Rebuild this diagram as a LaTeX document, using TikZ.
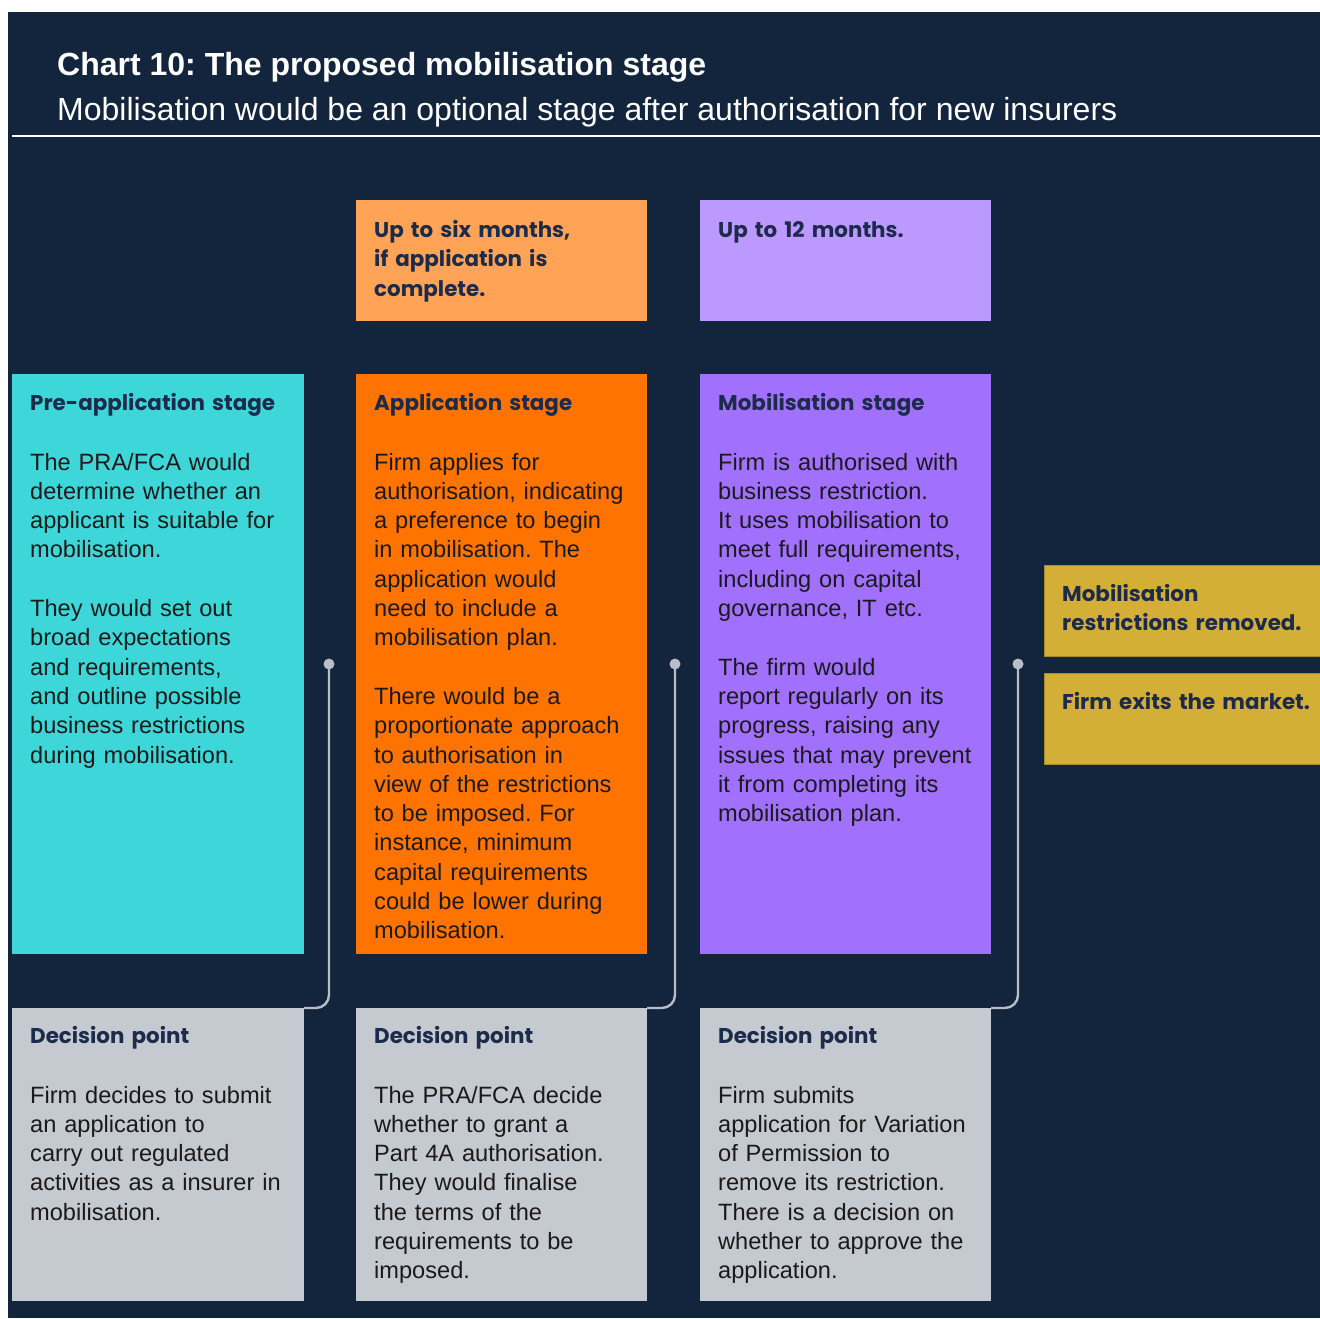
\documentclass[tikz,border=0pt]{standalone}
\usepackage{fontspec}
\setmainfont{Liberation Sans}
\newfontfamily\headfont{Poppins}
\frenchspacing
\definecolor{navy}{HTML}{13243D}
\definecolor{cyanbox}{HTML}{3DD7DA}
\definecolor{orangebox}{HTML}{FF7300}
\definecolor{lorangebox}{HTML}{FFA456}
\definecolor{purplebox}{HTML}{A171FE}
\definecolor{lpurplebox}{HTML}{BB99FF}
\definecolor{greybox}{HTML}{C5C9D0}
\definecolor{goldbox}{HTML}{D4AF37}
\definecolor{headtxt}{HTML}{1C2B4A}
\definecolor{bodytxt}{HTML}{1A1A1A}
\definecolor{conncol}{HTML}{B8BEC8}
\tikzset{
  panel/.style={inner sep=0pt, outer sep=0pt},
  headtext/.style={anchor=base west, inner sep=0pt, text=headtxt, font=\headfont\bfseries\fontsize{21.4}{29.5}\selectfont, text width=285pt, align=left},
  bodytext/.style={anchor=base west, inner sep=0pt, text=bodytxt, font=\fontsize{23.6}{29.3}\selectfont, text width=285pt, align=left},
  conn/.style={draw=conncol, line width=2.4pt, rounded corners=13pt},
  dot/.style={fill=conncol}
}
\begin{document}
\begin{tikzpicture}[x=1pt,y=-1pt]
\useasboundingbox (0,0) rectangle (1320,1318);
\fill[white] (0,0) rectangle (1320,1318);
\fill[navy] (8,12) rectangle (1320,1318);
% title
\node[anchor=base west, inner sep=0pt, text=white, font=\bfseries\fontsize{32}{38}\selectfont] (title) at (57,75) {Chart 10: The proposed mobilisation stage};
\node[anchor=base west, inner sep=0pt, text=white, font=\fontsize{32}{38}\selectfont] (subtitle) at (57,120) {Mobilisation would be an optional stage after authorisation for new insurers};
\draw[white, line width=1.6pt] (12,136) -- (1320,136);
% top duration boxes
\node[panel, fill=lorangebox, minimum width=291pt, minimum height=121pt, anchor=north west] (t1) at (356,200) {};
\node[panel, fill=lpurplebox, minimum width=291pt, minimum height=121pt, anchor=north west] (t2) at (700,200) {};
\node[headtext] (t1txt) at (374,237) {Up to six months,\\if application is\\complete.};
\node[headtext] (t2txt) at (718,237) {Up to 12 months.};
% stage boxes
\node[panel, fill=cyanbox, minimum width=292pt, minimum height=580pt, anchor=north west] (s1) at (12,374) {};
\node[panel, fill=orangebox, minimum width=291pt, minimum height=580pt, anchor=north west] (s2) at (356,374) {};
\node[panel, fill=purplebox, minimum width=291pt, minimum height=580pt, anchor=north west] (s3) at (700,374) {};
\node[headtext] (s1h) at (30,410) {Pre-application stage};
\node[headtext] (s2h) at (374,410) {Application stage};
\node[headtext] (s3h) at (718,410) {Mobilisation stage};
\node[bodytext] (s1b) at (30,470) {The PRA/FCA would\\determine whether an\\applicant is suitable for\\mobilisation.\\[29.3pt]They would set out\\broad expectations\\and requirements,\\and outline possible\\business restrictions\\during mobilisation.};
\node[bodytext] (s2b) at (374,470) {Firm applies for\\authorisation, indicating\\a preference to begin\\in mobilisation. The\\application would\\need to include a\\mobilisation plan.\\[29.3pt]There would be a\\proportionate approach\\to authorisation in\\view of the restrictions\\to be imposed. For\\instance, minimum\\capital requirements\\could be lower during\\mobilisation.};
\node[bodytext] (s3b) at (718,470) {Firm is authorised with\\business restriction.\\It uses mobilisation to\\meet full requirements,\\including on capital\\governance, IT etc.\\[29.3pt]The firm would\\report regularly on its\\progress, raising any\\issues that may prevent\\it from completing its\\mobilisation plan.};
% decision boxes
\node[panel, fill=greybox, minimum width=292pt, minimum height=293pt, anchor=north west] (d1) at (12,1008) {};
\node[panel, fill=greybox, minimum width=291pt, minimum height=293pt, anchor=north west] (d2) at (356,1008) {};
\node[panel, fill=greybox, minimum width=291pt, minimum height=293pt, anchor=north west] (d3) at (700,1008) {};
\node[headtext] (d1h) at (30,1043) {Decision point};
\node[headtext] (d2h) at (374,1043) {Decision point};
\node[headtext] (d3h) at (718,1043) {Decision point};
\node[bodytext] (d1b) at (30,1103) {Firm decides to submit\\an application to\\carry out regulated\\activities as a insurer in\\mobilisation.};
\node[bodytext] (d2b) at (374,1103) {The PRA/FCA decide\\whether to grant a\\Part 4A authorisation.\\They would finalise\\the terms of the\\requirements to be\\imposed.};
\node[bodytext] (d3b) at (718,1103) {Firm submits\\application for Variation\\of Permission to\\remove its restriction.\\There is a decision on\\whether to approve the\\application.};
% outcome boxes
\node[panel, fill=goldbox, draw=goldbox!80!black, line width=0.6pt, minimum width=280pt, minimum height=91pt, anchor=north west] (g1) at (1044,565) {};
\node[panel, fill=goldbox, draw=goldbox!80!black, line width=0.6pt, minimum width=280pt, minimum height=91pt, anchor=north west] (g2) at (1044,673) {};
\node[headtext] (g1t) at (1062,601) {Mobilisation\\restrictions removed.};
\node[headtext] (g2t) at (1062,709) {Firm exits the market.};
% connectors
\coordinate (c1) at (329,664);
\coordinate (c2) at (675,664);
\coordinate (c3) at (1018,664);
\draw[conn] (c1) |- (d1.north east);
\draw[conn] (c2) |- (d2.north east);
\draw[conn] (c3) |- (d3.north east);
\fill[dot] (c1) circle (5.5);
\fill[dot] (c2) circle (5.5);
\fill[dot] (c3) circle (5.5);
\end{tikzpicture}
\end{document}
